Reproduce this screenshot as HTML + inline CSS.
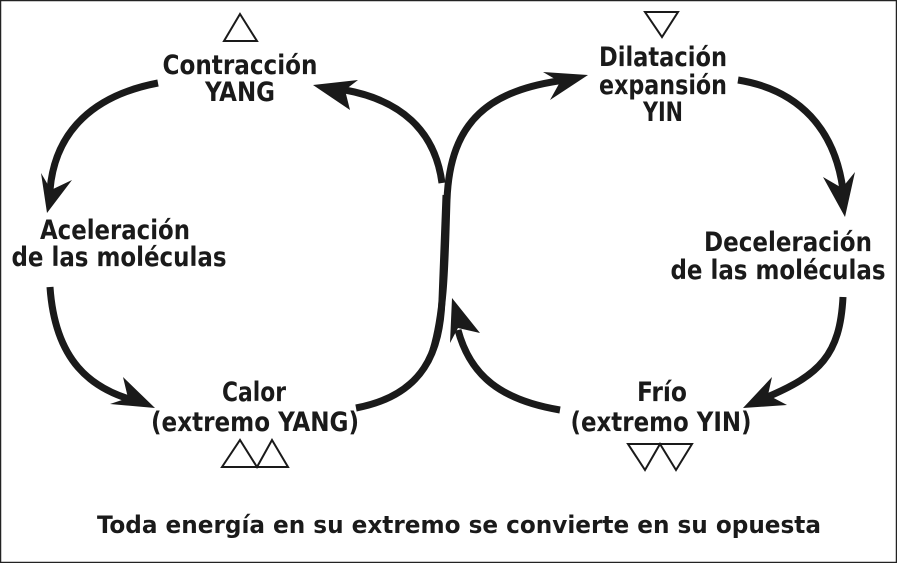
<!DOCTYPE html>
<html><head><meta charset="utf-8"><style>
html,body{margin:0;padding:0;background:#fff}
svg{display:block}
text{font-family:"DejaVu Sans Condensed","DejaVu Sans","Liberation Sans",sans-serif;font-weight:bold;fill:#1a1a1a;text-anchor:middle}
</style></head><body>
<svg width="897" height="563" viewBox="0 0 897 563">
<rect x="0.5" y="0.5" width="896" height="562" fill="#fff" stroke="#222" stroke-width="1.5"/>
<g fill="none" stroke="#1a1a1a" stroke-width="2">
<polygon points="240,14 224,41 257,41"/>
<polygon points="222,467 240,440 257,467 272,440 288,467 222,467"/>
<polygon points="645,12 678,12 662,37"/>
<polygon points="628,444 692,444 676,470 660,444 645,470"/>
</g>
<g fill="none" stroke="#1a1a1a" stroke-width="7">
<path d="M158,83 C95,95 55,130 50,190"/>
<path d="M50,287 C55,360 90,390 140,402"/>
<path d="M356,408 C425,395 440,350 442,300 L446,195"/>
<path d="M442,183 C435,130 400,100 345,90"/>
<path d="M433,350 C445,310 445,260 447,200 C450,120 490,90 565,80"/>
<path d="M738,80 C800,90 835,130 843,190"/>
<path d="M843,297 C840,355 820,375 765,398"/>
<path d="M560,410 C500,400 470,375 458,330"/>
</g>
<g fill="#1a1a1a">
<polygon points="47,213 41,173 51,190 72,180"/>
<polygon points="155,408 110,404 128,398 123,377"/>
<polygon points="313,85 358,80 345,90 350,110"/>
<polygon points="588,75 543,72 560,82 550,100"/>
<polygon points="845,217 823,177 842,188 855,172"/>
<polygon points="743,408 772,377 768,395 787,405"/>
<polygon points="452,298 450,343 458,328 480,333"/>
</g>
<g font-size="27">
<text x="240" y="74" textLength="155" lengthAdjust="spacingAndGlyphs">Contracción</text>
<text x="240" y="101" textLength="70" lengthAdjust="spacingAndGlyphs">YANG</text>
<text x="115" y="239" textLength="150" lengthAdjust="spacingAndGlyphs">Aceleración</text>
<text x="119" y="266" textLength="215" lengthAdjust="spacingAndGlyphs">de las moléculas</text>
<text x="254" y="401" textLength="64" lengthAdjust="spacingAndGlyphs">Calor</text>
<text x="255" y="431" textLength="208" lengthAdjust="spacingAndGlyphs">(extremo YANG)</text>
<text x="663" y="66" textLength="128" lengthAdjust="spacingAndGlyphs">Dilatación</text>
<text x="663" y="94" textLength="128" lengthAdjust="spacingAndGlyphs">expansión</text>
<text x="663" y="121" textLength="40" lengthAdjust="spacingAndGlyphs">YIN</text>
<text x="788" y="251" textLength="168" lengthAdjust="spacingAndGlyphs">Deceleración</text>
<text x="778" y="279" textLength="215" lengthAdjust="spacingAndGlyphs">de las moléculas</text>
<text x="662" y="401" textLength="50" lengthAdjust="spacingAndGlyphs">Frío</text>
<text x="661" y="431" textLength="181" lengthAdjust="spacingAndGlyphs">(extremo YIN)</text>
</g>
<text x="459" y="533" font-size="24" textLength="724" lengthAdjust="spacingAndGlyphs">Toda energía en su extremo se convierte en su opuesta</text>
</svg>
</body></html>
